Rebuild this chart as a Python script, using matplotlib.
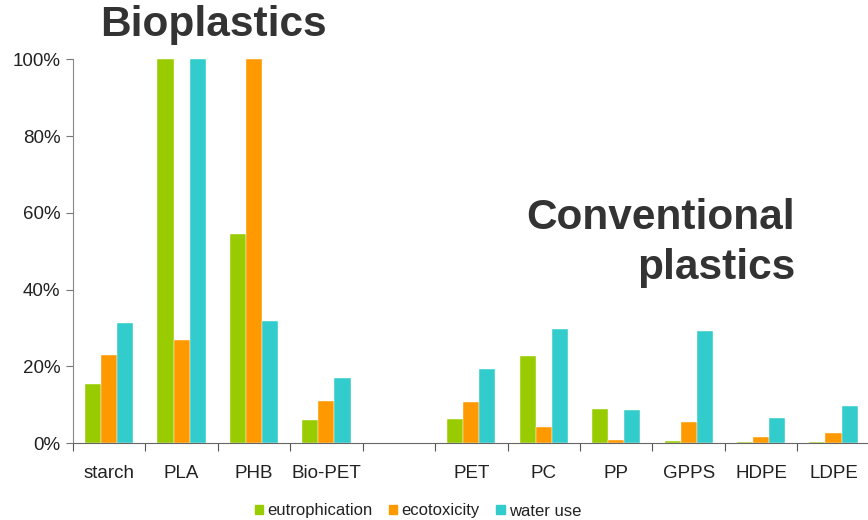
import numpy as np
import matplotlib.pyplot as plt
from matplotlib.patches import Patch

plt.rcParams['font.family'] = ['Liberation Sans', 'DejaVu Sans']

# ---- data (share of the maximum, %) ----
categories = ["starch", "PLA", "PHB", "Bio-PET", "", "PET", "PC", "PP", "GPPS", "HDPE", "LDPE"]
eutrophication = [15.4, 100, 54.5, 6.0, 0, 6.3, 22.7, 8.8, 0.6, 0.2, 0.2]
ecotoxicity    = [22.9, 26.8, 100, 10.9, 0, 10.7, 4.3, 0.8, 5.6, 1.5, 2.7]
water_use      = [31.2, 100, 31.8, 17.0, 0, 19.4, 29.7, 8.6, 29.3, 6.4, 9.6]
series_names = ["eutrophication", "ecotoxicity", "water use"]
colors = ["#99CC00", "#FF9900", "#33CCCC"]

fig = plt.figure(figsize=(8.68, 5.2), dpi=100)
ax = fig.add_axes([0.084, 0.148, 0.918, 0.738])

x = np.arange(len(categories))
w = 0.222
for k, (vals, c) in enumerate(zip([eutrophication, ecotoxicity, water_use], colors)):
    ax.bar(x + (k - 1) * w, np.array(vals) / 100, width=w, color=c,
           edgecolor="white", linewidth=0.3, label=series_names[k])

ax.set_xlim(-0.5, len(categories) - 0.5)
ax.set_ylim(0, 1)
ax.set_yticks(np.arange(0, 1.01, 0.2))
ax.set_yticklabels([f"{int(v*100)}%" for v in np.arange(0, 1.01, 0.2)], fontsize=13.5, color="#222222")

# boundary ticks, labels at centres
ax.set_xticks(np.arange(-0.5, len(categories), 1.0))
ax.set_xticklabels([])
ax.set_xticks(x, minor=True)
ax.set_xticklabels(categories, minor=True, fontsize=13.5, color="#222222")
ax.tick_params(axis="x", which="major", length=6, color="#555555", direction="out")
ax.tick_params(axis="x", which="minor", length=0, pad=16)
ax.tick_params(axis="y", length=5, color="#777777", direction="out", pad=4)

for s in ["top", "right"]:
    ax.spines[s].set_visible(False)
ax.spines["left"].set_color("#888888")
ax.spines["bottom"].set_color("#666666")

# headings
fig.text(100/868, 1 - 25/520, "Bioplastics", fontsize=30.5, fontweight="bold",
         color="#333333", ha="left", va="center")
fig.text(795/868, 1 - 218/520, "Conventional", fontsize=30.5, fontweight="bold",
         color="#333333", ha="right", va="center")
fig.text(795/868, 1 - 268/520, "plastics", fontsize=30.5, fontweight="bold",
         color="#333333", ha="right", va="center")

handles = [Patch(color=c) for c in colors]
fig.legend(handles, series_names, loc="center", bbox_to_anchor=(418/868, 1 - 511/520),
           ncol=3, frameon=False, fontsize=12, handlelength=0.5, handleheight=0.5,
           handletextpad=0.25, columnspacing=1.0, labelcolor="#222222")

fig.savefig("out.png", dpi=100)
